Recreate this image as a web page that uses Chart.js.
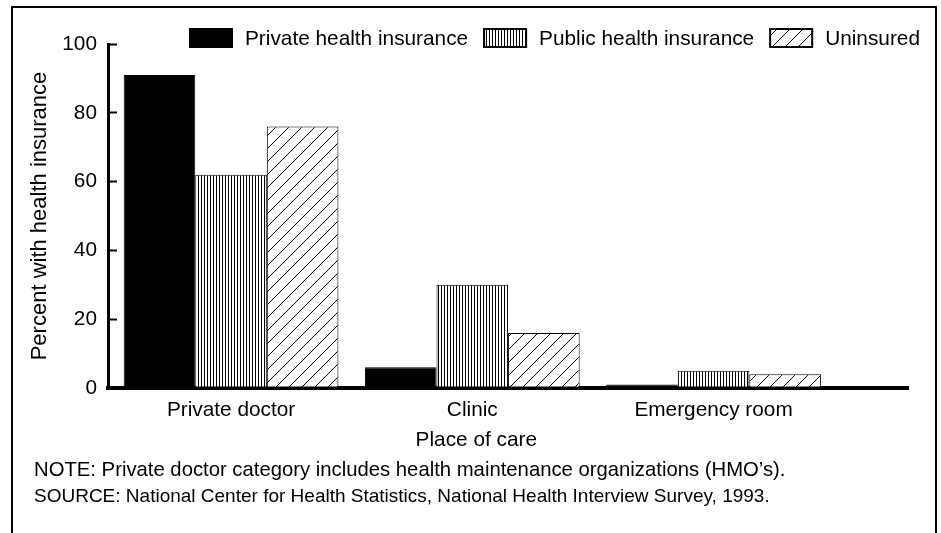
<!DOCTYPE html>
<html><head><meta charset="utf-8">
<script src="https://cdn.jsdelivr.net/npm/chart.js@4.4.1/dist/chart.umd.min.js"></script>
<style>
html,body{margin:0;padding:0;background:#fff;overflow:hidden;}
#wrap{position:absolute;left:0;top:0;width:941px;height:533px;}
#frame{position:absolute;left:11px;top:6px;width:922px;height:560px;border:2px solid #000;border-bottom:none;pointer-events:none;}
</style></head><body>
<div id="wrap"><canvas id="c"></canvas></div>
<div id="frame"></div>
<script>
// ---- data ----
const categories = ['Private doctor', 'Clinic', 'Emergency room'];
const seriesNames = ['Private health insurance', 'Public health insurance', 'Uninsured'];
const privateIns = [91, 6, 1];
const publicIns = [62, 30, 5];
const uninsured = [76, 16, 4];
const yTicks = [0, 20, 40, 60, 80, 100];
const xTitle = 'Place of care';
const yTitle = 'Percent with health insurance';
const noteText = 'NOTE: Private doctor category includes health maintenance organizations (HMO\u2019s).';
const sourceText = 'SOURCE: National Center for Health Statistics, National Health Interview Survey, 1993.';

const FONT = "'Liberation Sans', Arial, sans-serif";
const FS = 20.8;
Chart.defaults.color = '#000';
Chart.defaults.font.family = FONT;

const canvas = document.getElementById('c');
const ctx = canvas.getContext('2d');

function stripePattern() {
  const c = document.createElement('canvas');
  c.width = 3; c.height = 8;
  const x = c.getContext('2d');
  x.fillStyle = '#fff'; x.fillRect(0, 0, 3, 8);
  x.fillStyle = '#000'; x.fillRect(0, 0, 1, 8);
  return ctx.createPattern(c, 'repeat');
}
function hatchPattern() {
  const s = 13;
  const c = document.createElement('canvas');
  c.width = s; c.height = s;
  const x = c.getContext('2d');
  x.fillStyle = '#fff'; x.fillRect(0, 0, s, s);
  x.strokeStyle = '#000'; x.lineWidth = 1;
  x.beginPath();
  x.moveTo(0, s); x.lineTo(s, 0);
  x.moveTo(-2, 2); x.lineTo(2, -2);
  x.moveTo(s - 2, s + 2); x.lineTo(s + 2, s - 2);
  x.stroke();
  return ctx.createPattern(c, 'repeat');
}

const fills = ['#000', stripePattern(), hatchPattern()];
const seriesValues = [privateIns, publicIns, uninsured];

const datasets = seriesNames.map((name, k) => ({
  label: name,
  data: seriesValues[k].map((v, i) => ({x: i, y: v})),
  backgroundColor: fills[k],
  borderColor: '#000',
  borderWidth: 1,
  borderSkipped: false,
  categoryPercentage: 0.89,
  barPercentage: 1.0
}));

const legendPlugin = {
  id: 'boxLegend',
  afterDraw(chart) {
    const c = chart.ctx;
    c.save();
    c.font = FS + 'px ' + FONT;
    c.textBaseline = 'middle';
    c.textAlign = 'left';
    let x = 189;
    const y = 28, w = 44, h = 20;
    chart.data.datasets.forEach(ds => {
      c.fillStyle = ds.backgroundColor;
      c.fillRect(x, y, w, h);
      c.lineWidth = 2; c.strokeStyle = '#000';
      c.strokeRect(x + 1, y + 1, w - 2, h - 2);
      c.fillStyle = '#000';
      c.fillText(ds.label, x + 56, y + h / 2 + 1);
      x += 56 + c.measureText(ds.label).width + 15;
    });
    // x-axis title, centred under the category groups
    const xs = chart.scales.x;
    const cx = (xs.getPixelForValue(0) + xs.getPixelForValue(categories.length - 1)) / 2;
    c.textAlign = 'center';
    c.fillText(xTitle, cx + 4, chart.chartArea.bottom + 52);
    c.restore();
  }
};

new Chart(canvas, {
  type: 'bar',
  data: { datasets },
  plugins: [legendPlugin],
  options: {
    responsive: true,
    maintainAspectRatio: false,
    animation: false,
    layout: { padding: { left: 34, right: 33, top: 44, bottom: 22.5 } },
    plugins: {
      legend: { display: false },
      tooltip: { enabled: false },
      subtitle: {
        display: true,
        text: noteText,
        position: 'bottom',
        align: 'start',
        color: '#000',
        font: { size: 20.3, family: FONT, weight: 'normal', lineHeight: '27px' },
        padding: { top: 0, bottom: 0 }
      },
      title: {
        display: true,
        text: sourceText,
        position: 'bottom',
        align: 'start',
        color: '#000',
        font: { size: 19, family: FONT, weight: 'normal', lineHeight: '27px' },
        padding: { top: 0, bottom: 0 }
      }
    },
    scales: {
      x: {
        type: 'linear',
        min: -0.51,
        max: 2.806,
        offset: false,
        z: 1,
        afterBuildTicks: s => { s.ticks = categories.map((_, i) => ({ value: i })); },
        afterFit: s => { s.height = 68.5; },
        grid: { display: false, drawTicks: false },
        border: { display: true, color: '#000', width: 4 },
        ticks: {
          autoSkip: false, maxRotation: 0, padding: 10,
          font: { size: FS },
          callback: v => categories[v]
        },
        title: { display: false }
      },
      y: {
        min: 0, max: 100,
        afterBuildTicks: s => { s.ticks = yTicks.map(v => ({ value: v })); },
        afterFit: s => { s.width = 74; },
        grid: { display: true, drawOnChartArea: false, drawTicks: true, tickLength: -9, tickWidth: 2, tickColor: '#000' },
        border: { display: true, color: '#000', width: 3 },
        ticks: { padding: 20, font: { size: FS } },
        title: { display: true, text: yTitle, font: { size: 22 }, padding: { top: -7, bottom: 0 } }
      }
    }
  }
});
</script>
</body></html>
